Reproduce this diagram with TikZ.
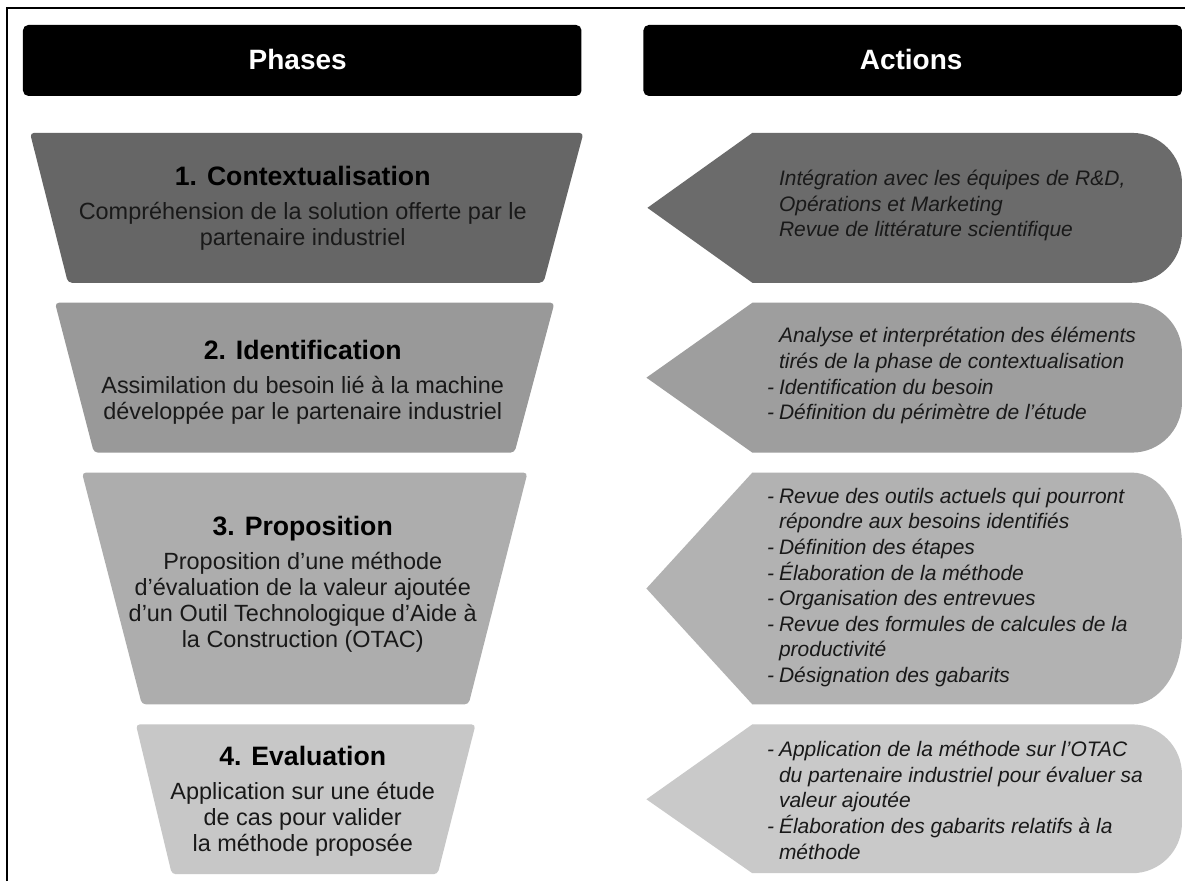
\documentclass[tikz,border=0pt]{standalone}
\usepackage{fontspec}
\setmainfont{Liberation Sans}
\newcommand\phasetitle[1]{{\fontsize{20}{23.5}\selectfont\bfseries\color{black}#1}}
\newcommand\actitem[1]{\makebox[9pt][l]{-}#1}
\newcommand\actcont[1]{\hspace*{9pt}#1}
\begin{document}
\begin{tikzpicture}[x=0.75pt,y=-0.75pt,
  headbox/.style={fill=black, rounded corners=4pt},
  headtext/.style={text=white, font=\fontsize{21}{25}\selectfont\bfseries},
  phasetext/.style={align=center, text=black!90, font=\fontsize{17.6}{19.5}\selectfont},
  acttext/.style={align=left, anchor=west, text=black!90, font=\fontsize{15.75}{19.2}\selectfont\itshape},
  trap/.style={rounded corners=3pt},
]
% page and frame
\fill[white] (0,0) rectangle (1186,882);
\draw[line width=1.6pt] (7,882) -- (7,8) -- (1186,8);

% column headers
\fill[headbox] (23,25) rectangle (582,96);
\node[headtext] (hphases) at (298,60) {Phases};
\fill[headbox] (644,25) rectangle (1183,96);
\node[headtext] (hactions) at (912,60) {Actions};

% phase trapezoids
\fill[trap, fill=black!60] (30,133) -- (584,133) -- (544,283) -- (68,283) -- cycle;
\fill[trap, fill=black!40] (55,303) -- (555,303) -- (515,453) -- (94,453) -- cycle;
\fill[trap, fill=black!32] (82,473) -- (528,473) -- (469,705) -- (142,705) -- cycle;
\fill[trap, fill=black!22] (136,725) -- (476,725) -- (438,875) -- (172,875) -- cycle;

% action arrows
\fill[fill=black!58] (648,208) -- (753,133) -- (1133,133)
  arc[start angle=-90, end angle=0, x radius=50, y radius=50] -- (1183,233)
  arc[start angle=0, end angle=90, x radius=50, y radius=50] -- (753,283) -- cycle;
\fill[fill=black!38] (647,378) -- (753,303) -- (1133,303)
  arc[start angle=-90, end angle=0, x radius=50, y radius=50] -- (1183,403)
  arc[start angle=0, end angle=90, x radius=50, y radius=50] -- (753,453) -- cycle;
\fill[fill=black!30] (647,589) -- (753,473) -- (1133,473)
  arc[start angle=-90, end angle=0, x radius=50, y radius=72] -- (1183,633)
  arc[start angle=0, end angle=90, x radius=50, y radius=72] -- (753,705) -- cycle;
\fill[fill=black!21] (647,800) -- (753,725) -- (1133,725)
  arc[start angle=-90, end angle=0, x radius=50, y radius=50] -- (1183,824)
  arc[start angle=0, end angle=90, x radius=50, y radius=50] -- (753,874) -- cycle;

% phase texts
\node[phasetext] (p1) at (303,208) {\phasetitle{1. Contextualisation}\\[6pt]
  Compréhension de la solution offerte par le\\ partenaire industriel};
\node[phasetext] (p2) at (303,383) {\phasetitle{2. Identification}\\[6pt]
  Assimilation du besoin lié à la machine\\ développée par le partenaire industriel};
\node[phasetext] (p3) at (303,585) {\phasetitle{3. Proposition}\\[6pt]
  Proposition d'une méthode\\ d'évaluation de la valeur ajoutée\\
  d'un Outil Technologique d'Aide à\\ la Construction (OTAC)};
\node[phasetext] (p4) at (303,802) {\phasetitle{4. Evaluation}\\[6pt]
  Application sur une étude\\ de cas pour valider\\ la méthode proposée};

% action texts
\node[acttext] (a1) at (763,206) {\actcont{Intégration avec les équipes de R\&D,}\\
  \actcont{Opérations et Marketing}\\ \actcont{Revue de littérature scientifique}};
\node[acttext] (a2) at (763,376) {\actcont{Analyse et interprétation des éléments}\\
  \actcont{tirés de la phase de contextualisation}\\
  \actitem{Identification du besoin}\\ \actitem{Définition du périmètre de l'étude}};
\node[acttext] (a3) at (763,588) {\actitem{Revue des outils actuels qui pourront}\\
  \actcont{répondre aux besoins identifiés}\\ \actitem{Définition des étapes}\\
  \actitem{Élaboration de la méthode}\\ \actitem{Organisation des entrevues}\\
  \actitem{Revue des formules de calcules de la}\\ \actcont{productivité}\\
  \actitem{Désignation des gabarits}};
\node[acttext] (a4) at (763,801) {\actitem{Application de la méthode sur l'OTAC}\\
  \actcont{du partenaire industriel pour évaluer sa}\\ \actcont{valeur ajoutée}\\
  \actitem{Élaboration des gabarits relatifs à la}\\ \actcont{méthode}};
\end{tikzpicture}
\end{document}
